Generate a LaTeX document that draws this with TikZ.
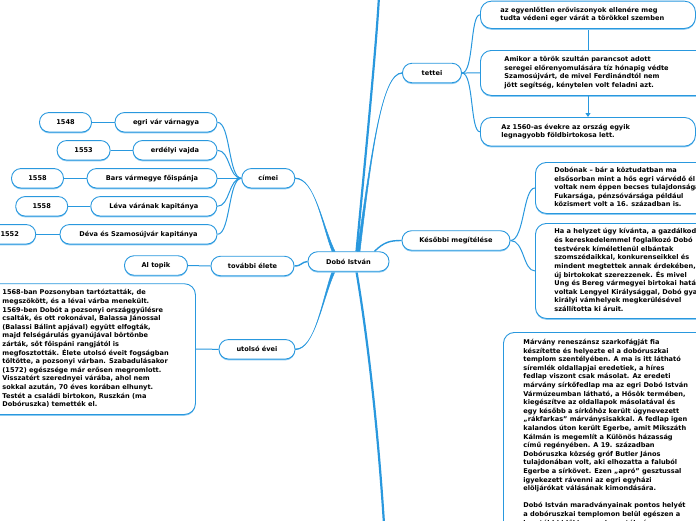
\documentclass[tikz,border=0pt]{standalone}
\usepackage{fontspec}
\setmainfont{DejaVu Sans}
\usetikzlibrary{shadows,arrows.meta}
\definecolor{lineblue}{HTML}{2998DE}
\definecolor{shadowblue}{HTML}{8CCBF2}
\newcommand{\mmfont}{\fontsize{6.6}{8.6}\selectfont\bfseries}
\newcommand{\mmlines}[2]{\makebox[#1][l]{\begin{tabular}{@{}l@{}}#2\end{tabular}}}
\pgfdeclarelayer{bg}
\pgfsetlayers{bg,main}
\begin{document}
\begin{tikzpicture}[x=1pt,y=-1pt,
 pill/.style={draw=lineblue, line width=0.9pt, fill=white, rounded corners=9.5pt,
   minimum height=19.5pt, inner sep=0pt, font=\mmfont,
   drop shadow={shadow xshift=0pt, shadow yshift=-1.3pt, fill=shadowblue, opacity=1}},
 textbox/.style={draw=lineblue, line width=0.9pt, fill=white, rounded corners=11pt,
   inner ysep=0pt, font=\mmfont, anchor=north west,
   drop shadow={shadow xshift=0pt, shadow yshift=-1.3pt, fill=shadowblue, opacity=1}},
 branch/.style={draw=lineblue, line width=1pt},
 mainbranch/.style={draw=lineblue, line width=1.4pt},
 taper/.style={fill=lineblue, draw=lineblue, line width=0.5pt},
 trunk/.style={draw=lineblue, line width=2.2pt}]
\useasboundingbox (0,0) rectangle (696,520);
\clip (0,0) rectangle (696,520);

% central and main nodes
\node[pill, minimum width=81pt] (dobo) at (348.5,261.5) {Dobó István};
\node[pill, minimum width=59pt] (tettei) at (432,73) {tettei};
\node[pill, minimum width=108pt] (kesobbi) at (456,240.5) {Későbbi megítélése};
\node[pill, minimum width=53pt] (cimei) at (268.3,178.3) {címei};
\node[pill, minimum width=83pt] (tovabbi) at (252.5,266) {további élete};
\node[pill, minimum width=76pt] (utolso) at (257,349.3) {utolsó évei};
\node[pill, minimum width=63pt] (altopik) at (156,265.5) {Al topik};

% címei children
\node[pill, minimum width=102pt] (egri) at (166,122.3) {egri vár várnagya};
\node[pill, minimum width=52pt] (y1548) at (65.5,122.3) {1548};
\node[pill, minimum width=84pt] (erdelyi) at (175,150.3) {erdélyi vajda};
\node[pill, minimum width=53pt] (y1553) at (83.6,150.3) {1553};
\node[pill, minimum width=130pt] (bars) at (152,178.3) {Bars vármegye főispánja};
\node[pill, minimum width=52pt] (y1558a) at (37.5,178.3) {1558};
\node[pill, minimum width=126pt] (leva) at (153.8,206.3) {Léva várának kapitánya};
\node[pill, minimum width=52pt] (y1558b) at (41.7,206.3) {1558};
\node[pill, minimum width=157pt] (deva) at (138.5,234.3) {Déva és Szamosújvár kapitánya};
\node[pill, minimum width=52pt] (y1552) at (9.7,234.3) {1552};

% tettei children
\node[textbox, inner xsep=20pt, minimum height=27.3pt] (t1) at (480,0.7)
 {\mmlines{175pt}{az egyenlőtlen erőviszonyok ellenére meg\\tudta védeni eger várát a törökkel szemben}};
\node[textbox, inner xsep=24pt, minimum height=45pt] (t2) at (480,50)
 {\mmlines{192pt}{Amikor a török szultán parancsot adott\\seregei előrenyomulására tíz hónapig védte\\Szamosújvárt, de mivel Ferdinándtól nem\\jött segítség, kénytelen volt feladni azt.}};
\node[textbox, inner xsep=21pt, minimum height=28.7pt] (t3) at (480,117)
 {\mmlines{173pt}{Az 1560-as évekre az ország egyik\\legnagyobb földbirtokosa lett.}};

% Későbbi children
\node[textbox, inner xsep=19pt, minimum height=51pt] (k1) at (535,162)
 {\mmlines{160pt}{Dobónak – bár a köztudatban ma\\elsősorban mint a hős egri várvédő él –\\voltak nem éppen becses tulajdonságai.\\Fukarsága, pénzsóvársága például\\közismert volt a 16. században is.}};
\node[textbox, inner xsep=19pt, minimum height=95pt] (k2) at (535,223)
 {\mmlines{160pt}{Ha a helyzet úgy kívánta, a gazdálkodás\\és kereskedelemmel foglalkozó Dobó\\testvérek kíméletlenül elbántak\\szomszédaikkal, konkurenseikkel és\\mindent megtettek annak érdekében, hogy\\új birtokokat szerezzenek. És mivel\\Ung és Bereg vármegyei birtokai határosak\\voltak Lengyel Királysággal, Dobó gyakran\\királyi vámhelyek megkerülésével\\szállította ki áruit.}};

% marble text
\node[textbox, inner xsep=20pt, inner ysep=6pt] (marble) at (503,332)
 {\mmlines{190pt}{Márvány reneszánsz szarkofágját fia\\készítette és helyezte el a dobóruszkai\\templom szentélyében. A ma is itt látható\\síremlék oldallapjai eredetiek, a híres\\fedlap viszont csak másolat. Az eredeti\\márvány sírkőfedlap ma az egri Dobó István\\Vármúzeumban látható, a Hősök termében,\\kiegészítve az oldallapok másolatával és\\egy később a sírkőhöz került úgynevezett\\„rákfarkas” márványsisakkal. A fedlap igen\\kalandos úton került Egerbe, amit Mikszáth\\Kálmán is megemlít a Különös házasság\\című regényében. A 19. században\\Dobóruszka község gróf Butler János\\tulajdonában volt, aki elhozatta a faluból\\Egerbe a sírkövet. Ezen „apró” gesztussal\\igyekezett rávenni az egri egyházi\\elöljárókat válásának kimondására.\\ \\Dobó István maradványainak pontos helyét\\a dobóruszkai templomon belül egészen a\\legutóbbi időkig nem ismerték, és a\\ }};

% utolsó évei text
\node[textbox, inner xsep=20pt, minimum height=130.7pt] (utext) at (-18,283.3)
 {\mmlines{173pt}{1568-ban Pozsonyban tartóztatták, de\\megszökött, és a lévai várba menekült.\\1569-ben Dobót a pozsonyi országgyűlésre\\csalták, és ott rokonával, Balassa Jánossal\\(Balassi Bálint apjával) együtt elfogták,\\majd felségárulás gyanújával börtönbe\\zárták, sőt főispáni rangjától is\\megfosztották. Élete utolsó éveit fogságban\\töltötte, a pozsonyi várban. Szabadulásakor\\(1572) egészsége már erősen megromlott.\\Visszatért szerednyei várába, ahol nem\\sokkal azután, 70 éves korában elhunyt.\\Testét a családi birtokon, Ruszkán (ma\\Dobóruszka) temették el.}};

\coordinate (topend) at (379,-4);
\coordinate (botend) at (384,524);
\coordinate (ax) at (588,0);

\begin{pgfonlayer}{bg}
\fill[white] (0,0) rectangle (696,520);
\draw[trunk] ([xshift=8pt]dobo.north) .. controls (366,150) and (376,50) .. (topend);
\draw[trunk] ([xshift=8pt]dobo.south) .. controls (368,340) and (378,430) .. (botend);
% tapered branches
\path[taper] ([xshift=8.5pt]dobo.north) .. controls (372,150) and (382,73) .. ([yshift=0.4pt]tettei.west)
  -- ([yshift=-0.4pt]tettei.west) .. controls (382,73) and (372,150) .. ([xshift=11.5pt]dobo.north) -- cycle;
\path[taper] ([xshift=-16.5pt]dobo.north) .. controls (322,225) and (315,178.3) .. ([yshift=0.4pt]cimei.east)
  -- ([yshift=-0.4pt]cimei.east) .. controls (315,178.3) and (322,225) .. ([xshift=-13.5pt]dobo.north) -- cycle;
\path[taper] ([xshift=-16.5pt]dobo.south) .. controls (322,300) and (315,349.3) .. ([yshift=-0.4pt]utolso.east)
  -- ([yshift=0.4pt]utolso.east) .. controls (315,349.3) and (322,300) .. ([xshift=-13.5pt]dobo.south) -- cycle;
\draw[mainbranch] ([xshift=26pt]dobo.north) .. controls (384,242) and (390,240.5) .. (kesobbi.west);
\draw[mainbranch] (dobo.west) .. controls (301,262) and (302,266) .. (tovabbi.east);
\foreach \n in {egri,erdelyi,bars,leva,deva}
  \draw[branch] (\n.east) .. controls +(13,0) and +(-13,0) .. (cimei.west);
\draw[branch] (y1548.east) -- (egri.west);
\draw[branch] (y1553.east) -- (erdelyi.west);
\draw[branch] (y1558a.east) -- (bars.west);
\draw[branch] (y1558b.east) -- (leva.west);
\draw[branch] (y1552.east) -- (deva.west);
\foreach \n in {t1,t2,t3}
  \draw[branch] (tettei.east) .. controls +(12,0) and +(-10,0) .. (\n.west);
\foreach \n in {k1,k2}
  \draw[branch] (kesobbi.east) .. controls +(14,0) and +(-12,0) .. (\n.west);
\draw[branch] (altopik.east) -- (tovabbi.west);
\draw[branch] (utext.east) -- (utolso.west);
\draw[branch] (t1.south -| ax) -- (t2.north -| ax);
\end{pgfonlayer}
\draw[branch, -{Triangle[width=5pt,length=4pt]}] (t2.south -| ax) -- (t3.north -| ax);
\end{tikzpicture}
\end{document}
